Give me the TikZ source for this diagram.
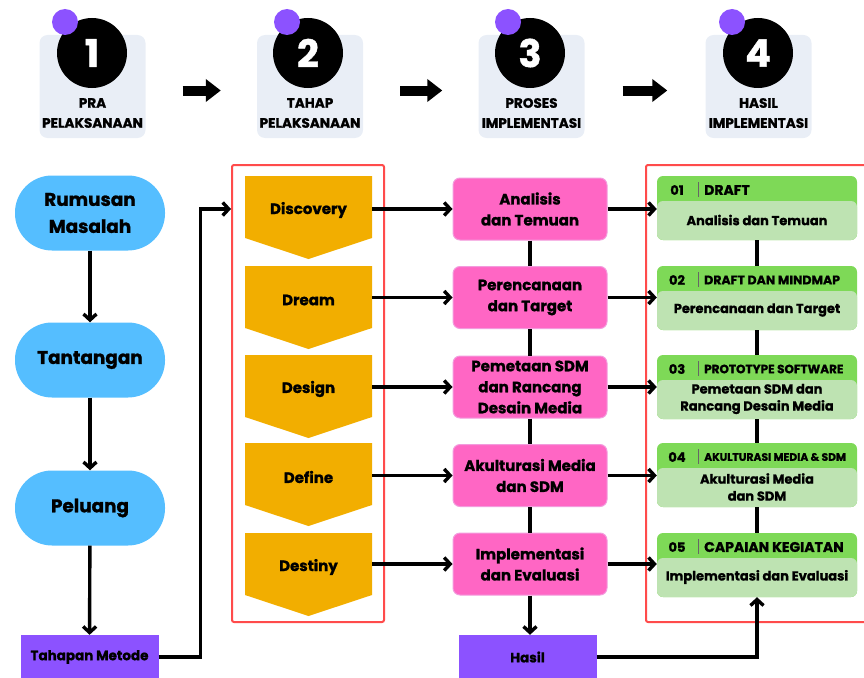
\documentclass[tikz,border=0pt]{standalone}
\usepackage{fontspec}
\setmainfont{Poppins}[BoldFeatures={FakeBold=1.2}]
\usepackage{xcolor}
\usetikzlibrary{arrows.meta,positioning}
\definecolor{cardbg}{HTML}{E9EEF6}
\definecolor{dotpurple}{HTML}{8C52FF}
\definecolor{pillblue}{HTML}{55BEFF}
\definecolor{chev}{HTML}{F2AE00}
\definecolor{pinkfill}{HTML}{FF66C4}
\definecolor{pinkedge}{HTML}{F39BDD}
\definecolor{greenhead}{HTML}{7ED957}
\definecolor{greenbody}{HTML}{BEE3B2}
\definecolor{framered}{HTML}{FF4B4B}

\begin{document}
\begin{tikzpicture}[x=1pt,y=-1pt,>=Stealth,font=\bfseries]
\tikzstyle{card}=[fill=cardbg,rounded corners=8,minimum width=106,minimum height=103]
\tikzstyle{numdot}=[circle,fill=black,minimum size=70,inner sep=0,text=white,font=\fontsize{38}{38}\selectfont\bfseries]
\tikzstyle{dot}=[circle,fill=dotpurple,minimum size=26,inner sep=0]
\tikzstyle{steplabel}=[align=center,font=\fontsize{13.6}{20}\selectfont\bfseries]
\tikzstyle{pill}=[fill=pillblue,rounded corners=37,minimum width=150,minimum height=75,align=center,font=\fontsize{18.4}{27}\selectfont\bfseries]
\tikzstyle{base}=[fill=dotpurple,minimum width=138,minimum height=44,font=\fontsize{13.5}{16}\selectfont\bfseries]
\tikzstyle{chevtext}=[minimum width=127,inner xsep=0,font=\fontsize{15}{18}\selectfont\bfseries]
\tikzstyle{pinkbox}=[fill=pinkfill,draw=pinkedge,line width=1,rounded corners=7,minimum width=154,minimum height=62,inner ysep=0,align=center,font=\fontsize{15}{21}\selectfont\bfseries]
\tikzstyle{greenbox}=[fill=greenhead,rounded corners=6,minimum width=200,minimum height=64]
\tikzstyle{frame}=[draw=framered,line width=2,rounded corners=2]
\tikzstyle{arr}=[line width=3.4,-{Straight Barb[length=6pt,width=13pt]}]
\tikzstyle{link}=[line width=3.4]
\tikzstyle{bigarrow}=[line width=10pt,-{Triangle[length=15pt,width=22pt]}]
\tikzstyle{gnum}=[font=\fontsize{13}{15}\selectfont\bfseries]
\tikzstyle{gtext}=[align=center,font=\fontsize{13}{17}\selectfont\bfseries]

\useasboundingbox (0,0) rectangle (864,677);

\foreach \i/\x/\cx/\dx/\txt in {1/92.5/92/65/{PRA\\PELAKSANAAN},2/310/308/287/{TAHAP\\PELAKSANAAN},3/531.5/530/508/{PROSES\\IMPLEMENTASI},4/758.5/758/732/{HASIL\\IMPLEMENTASI}}{
  \node[card] (card\i) at (\x,86.5) {};
  \node[numdot] (num\i) at (\cx,53) {\i};
  \node[dot] (dot\i) at (\dx,22) {};
  \node[steplabel] (lab\i) at (\x,113) {\txt};
}
\draw[bigarrow,shorten <=37pt,shorten >=36pt,transform canvas={yshift=-4pt}] (card1.east) -- (card2.west);
\draw[bigarrow,shorten <=37pt,shorten >=36pt,transform canvas={yshift=-4pt}] (card2.east) -- (card3.west);
\draw[bigarrow,shorten <=38pt,shorten >=38pt,transform canvas={yshift=-4pt}] (card3.east) -- (card4.west);

\node[pill] (rm) at (90,213) {Rumusan\\Masalah};
\node[pill] (tt) at (90,360) {Tantangan};
\node[pill] (pl) at (90,508) {Peluang};
\node[base] (tm) at (89.5,657) {Tahapan Metode};
\draw[arr] (rm) -- (tt);
\draw[arr] (tt) -- (pl);
\draw[arr] (pl) -- (tm);

\node[frame,minimum width=152,minimum height=457] (frame1) at (308,393.5) {};
\foreach \n/\t/\txt in {disc/176/Discovery,dream/266/Dream,design/355/Design,define/443/Define,destiny/533/Destiny}{
  \fill[chev] (245,\t) -- (372,\t) -- (372,\t+62) -- (308.5,\t+83) -- (245,\t+62) -- cycle;
  \node[chevtext] (\n) at (308.5,\t+34) {\txt};
}

\foreach \n/\y/\txt in {ana/209/{Analisis\\dan Temuan},ren/297.5/{Perencanaan\\dan Target},pem/387/{Pemetaan SDM\\dan Rancang\\Desain Media},aku/475.5/{Akulturasi Media\\dan SDM},imp/564/{Implementasi\\dan Evaluasi}}
  \node[pinkbox] (\n) at (530,\y) {\txt};
\node[base] (hasil) at (527.5,657) {Hasil};

\node[frame,minimum width=228,minimum height=457] (frame2) at (760,393.5) {};
\foreach \n/\t/\num/\hs/\head/\txt in {g1/176/01/14/DRAFT/{Analisis dan Temuan},g2/266/02/12.5/DRAFT DAN MINDMAP/{Perencanaan dan Target},g3/355/03/12/PROTOTYPE SOFTWARE/{Pemetaan SDM dan\\Rancang Desain Media},g4/443/04/10.8/AKULTURASI MEDIA \& SDM/{Akulturasi Media\\dan SDM},g5/533/05/14/CAPAIAN KEGIATAN/{Implementasi dan Evaluasi}}{
  \node[greenbox] (\n) at (757,\t+32) {};
  \fill[greenbody,rounded corners=6] (657,\t+25) rectangle (857,\t+64);
  \node[gnum] (\n-num) at (677,\t+14) {\num};
  \draw[black!60,line width=0.6] (698,\t+6) -- (698,\t+21);
  \node[anchor=west,inner xsep=0,font=\fontsize{\hs}{\hs}\selectfont\bfseries] (\n-head) at (704,\t+14) {\head};
  \node[gtext] (\n-text) at (757,\t+44) {\txt};
}

\draw[arr] (tm.east) -- ++(42,0) |- (frame1.west |- ana.west);
\foreach \c/\p/\g in {disc/ana/g1,dream/ren/g2,design/pem/g3,define/aku/g4,destiny/imp/g5}{
  \draw[arr] (\p.west -| \c.east) -- (\p.west);
  \draw[arr] (\p.east) -- (\p.east -| \g.west);
}
\draw[link] (ana) -- (ren);
\draw[link] (ren) -- (pem);
\draw[link] (pem) -- (aku);
\draw[link] (aku) -- (imp);
\draw[link] (g1) -- (g2);
\draw[link] (g2) -- (g3);
\draw[link] (g3) -- (g4);
\draw[link] (g4) -- (g5);
\draw[arr] (imp.south) -- (imp.south |- hasil.north);
\draw[arr] (hasil.east) -| (g5.south);
\end{tikzpicture}
\end{document}
